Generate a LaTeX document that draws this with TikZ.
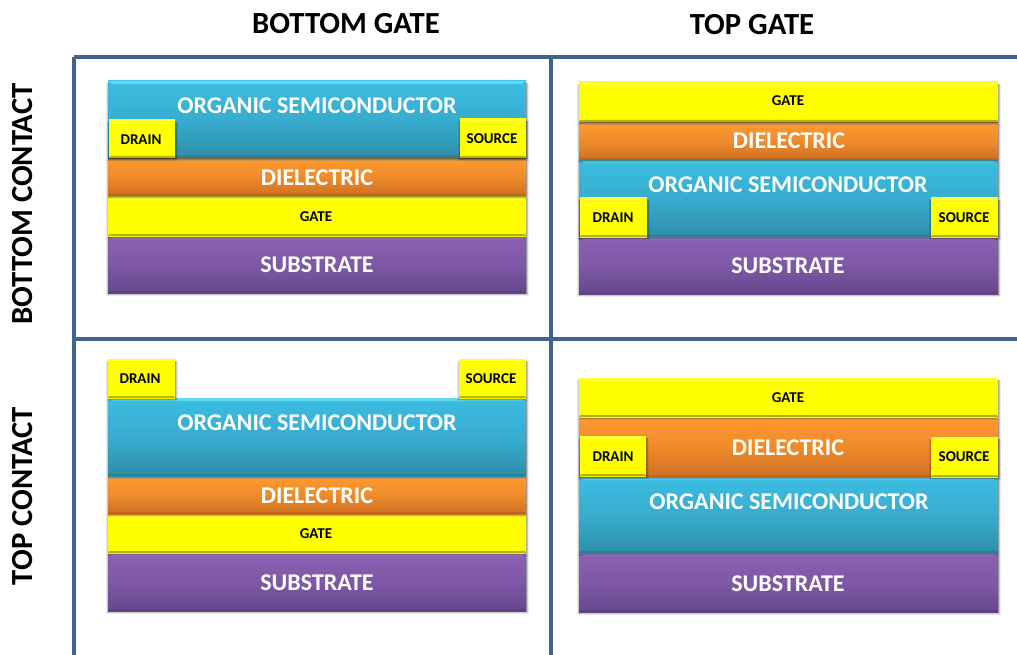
\documentclass[tikz,border=0pt]{standalone}
\usepackage{fontspec}
\setmainfont{Carlito}[Ligatures=TeX]
\usetikzlibrary{calc}
\definecolor{gridc}{HTML}{41648F}
\definecolor{semiT}{HTML}{3CBDE2}\definecolor{semiB}{HTML}{2F8DA9}\definecolor{semiH}{HTML}{5FDCF2}\definecolor{semiD}{HTML}{2A7E98}
\definecolor{dielT}{HTML}{FF9A30}\definecolor{dielB}{HTML}{CF6F22}\definecolor{dielH}{HTML}{DDA055}\definecolor{dielD}{HTML}{BC651F}
\definecolor{gateT}{HTML}{FFFF00}\definecolor{gateB}{HTML}{FFFF00}\definecolor{gateH}{HTML}{FFFF30}\definecolor{gateD}{HTML}{B4B400}
\definecolor{subT}{HTML}{8A62B4}\definecolor{subB}{HTML}{66478C}\definecolor{subH}{HTML}{9C7CC2}\definecolor{subD}{HTML}{5E4280}
\tikzset{
  x=1pt,y=-1pt,
  gridline/.style={draw=gridc,line width=3.4pt},
  biglabel/.style={font=\fontsize{24}{28}\selectfont\bfseries,text=white,inner sep=0pt},
  smalllabel/.style={font=\fontsize{15}{17}\selectfont\bfseries,text=black,inner sep=0pt},
  headlabel/.style={font=\fontsize{30.7}{34}\selectfont\bfseries,text=black,inner sep=0pt},
}
% name, x0,y0,x1,y1, colour prefix
\newcommand\lay[6]{%
  \foreach \s/\o in {3/.08,2/.14,1/.22}{
    \fill[black,opacity=\o] (#2-\s+1,#3+2) rectangle (#4+\s,#5+\s);}
  \shade[top color=#6T,bottom color=#6B,middle color=#6T!65!#6B] (#2,#3) rectangle (#4,#5);
  \fill[#6H] (#2,#3) -- (#4,#3) -- (#4-5,#3+3) -- (#2+5,#3+3) -- cycle;
  \fill[#6D] (#2,#5) -- (#4,#5) -- (#4-1,#5-2) -- (#2+1,#5-2) -- cycle;
  \coordinate (#1) at ($(#2,#3)!.5!(#4,#5)$);
}
\begin{document}
\begin{tikzpicture}
\useasboundingbox (0,0) rectangle (1017,655);
\fill[white] (0,0) rectangle (1017,655);
% grid
\coordinate (g1) at (74,57); \coordinate (g2) at (551,57); \coordinate (g3) at (1017,57);
\coordinate (g4) at (74,339); \coordinate (g5) at (1017,339);
\coordinate (g6) at (74,655); \coordinate (g7) at (551,655);
\draw[gridline] (g1) -- (g3);
\draw[gridline] (g4) -- (g5);
\draw[gridline] (g1) -- (g6);
\draw[gridline] (g2) -- (g7);
% headers
\node[headlabel] (hbg) at (346,24) {BOTTOM GATE};
\node[headlabel] (htg) at (752,25) {TOP GATE};
\node[headlabel,rotate=90] (hbc) at (23,204) {BOTTOM CONTACT};
\node[headlabel,rotate=90] (htc) at (23,496) {TOP CONTACT};
% top-left
\lay{aSub}{108}{236}{526}{293}{sub}
\lay{aGate}{108}{196}{526}{236}{gate}
\lay{aDiel}{108}{158}{526}{196}{diel}
\lay{aSemi}{108}{81}{526}{158}{semi}
\lay{aDr}{109}{120}{175}{158}{gate}
\lay{aSr}{460}{119}{526}{158}{gate}
\node[biglabel] (tSemiA) at (317,106) {ORGANIC SEMICONDUCTOR};
\node[smalllabel] (tDrA) at (141,140) {DRAIN};
\node[smalllabel] (tSrA) at (492,139) {SOURCE};
\node[biglabel] (tDielA) at (317,178) {DIELECTRIC};
\node[smalllabel] (tGateA) at (316,217) {GATE};
\node[biglabel] (tSubA) at (317,265) {SUBSTRATE};
% top-right
\lay{bSub}{579}{237}{998}{294}{sub}
\lay{bSemi}{579}{160}{998}{237}{semi}
\lay{bDr}{580}{198}{647}{237}{gate}
\lay{bSr}{931}{198}{998}{237}{gate}
\lay{bDiel}{579}{122}{998}{160}{diel}
\lay{bGate}{579}{82}{998}{122}{gate}
\node[smalllabel] (tGateB) at (788,101) {GATE};
\node[biglabel] (tDielB) at (789,141) {DIELECTRIC};
\node[biglabel] (tSemiB) at (788,185) {ORGANIC SEMICONDUCTOR};
\node[smalllabel] (tDrB) at (613,218) {DRAIN};
\node[smalllabel] (tSrB) at (964,218) {SOURCE};
\node[biglabel] (tSubB) at (788,266) {SUBSTRATE};
% bottom-left
\lay{cSub}{108}{553}{526}{611}{sub}
\lay{cGate}{108}{514}{526}{553}{gate}
\lay{cDiel}{108}{476}{526}{514}{diel}
\lay{cSemi}{108}{398}{526}{476}{semi}
\lay{cDr}{108}{359}{175}{398}{gate}
\lay{cSr}{459}{359}{526}{398}{gate}
\node[smalllabel] (tDrC) at (140,379) {DRAIN};
\node[smalllabel] (tSrC) at (491,379) {SOURCE};
\node[biglabel] (tSemiC) at (317,423) {ORGANIC SEMICONDUCTOR};
\node[biglabel] (tDielC) at (317,496) {DIELECTRIC};
\node[smalllabel] (tGateC) at (316,534) {GATE};
\node[biglabel] (tSubC) at (317,583) {SUBSTRATE};
% bottom-right
\lay{dSub}{579}{553}{998}{612}{sub}
\lay{dSemi}{579}{477}{998}{553}{semi}
\lay{dDiel}{579}{417}{998}{477}{diel}
\lay{dDr}{580}{436}{646}{476}{gate}
\lay{dSr}{931}{437}{998}{477}{gate}
\lay{dGate}{579}{378}{998}{417}{gate}
\node[smalllabel] (tGateD) at (788,398) {GATE};
\node[biglabel] (tDielD) at (788,448) {DIELECTRIC};
\node[smalllabel] (tDrD) at (613,457) {DRAIN};
\node[smalllabel] (tSrD) at (964,457) {SOURCE};
\node[biglabel] (tSemiD) at (789,502) {ORGANIC SEMICONDUCTOR};
\node[biglabel] (tSubD) at (788,584) {SUBSTRATE};
\end{tikzpicture}
\end{document}
